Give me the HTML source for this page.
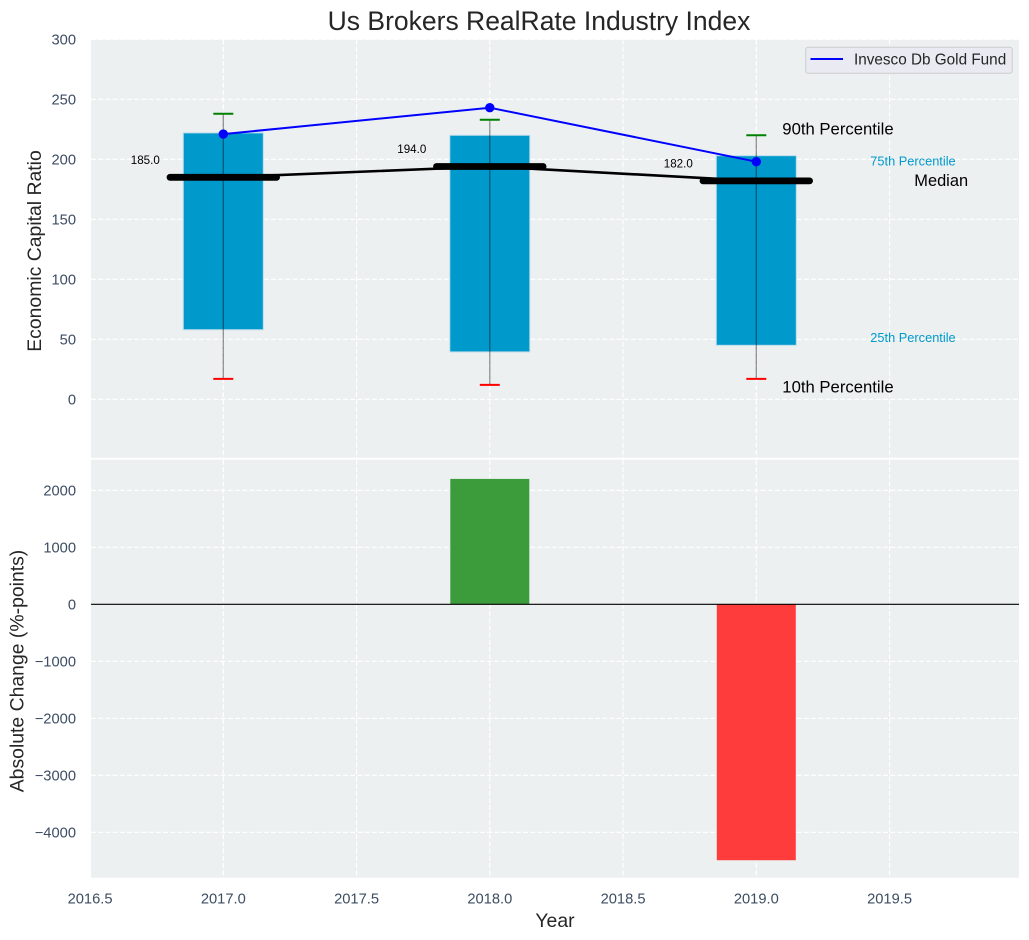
<!DOCTYPE html>
<html lang="en">
<head>
<meta charset="utf-8">
<title>Us Brokers RealRate Industry Index</title>
<style>
html,body{margin:0;padding:0;background:#fff;}
svg{display:block;font-family:"Liberation Sans",Arial,sans-serif;}
</style>
</head>
<body>
<svg id="chart" xmlns="http://www.w3.org/2000/svg" width="1029" height="940" viewBox="0 0 1029 940"></svg>
<script>
const categories = [2017, 2018, 2019];
const p10Values = [17, 12, 17];
const p25Values = [58, 39.5, 45];
const medianValues = [185, 194, 182];
const p75Values = [222, 220, 203];
const p90Values = [238, 233, 220];
const fundValues = [221, 243, 198];
const changeValues = [0, 2200, -4490];
const xTickLabels = [2016.5, 2017, 2017.5, 2018, 2018.5, 2019, 2019.5];
const topTickLabels = [0, 50, 100, 150, 200, 250, 300];
const bottomTickLabels = [-4000, -3000, -2000, -1000, 0, 1000, 2000];

const svg = document.getElementById('chart');
const NS = 'http://www.w3.org/2000/svg';
const L = 91, R = 1019, T1 = 39.5, B1 = 458.7, T2 = 459.7, B2 = 877.7;
const xScale = v => 223.3 + (v - 2017) * 266.5;
const yTop = v => 399.3 - v * 1.2;
const yBottom = v => 604.3 - v * 0.057;

function make(tag, props, text) {
  const el = document.createElementNS(NS, tag);
  for (const k in props) el.setAttribute(k, props[k]);
  if (text !== undefined) el.textContent = text;
  svg.appendChild(el);
  return el;
}
function line(x1, y1, x2, y2, stroke, width, extra) {
  return make('line', Object.assign({x1, y1, x2, y2, stroke, 'stroke-width': width}, extra || {}));
}
function label(x, y, text, size, fill, anchor) {
  return make('text', {x, y, 'font-size': size, fill, 'text-anchor': anchor || 'start', 'dominant-baseline': 'central'}, text);
}
const tickColor = '#3d4d63';
const gridDash = {'stroke-dasharray': '5 2.2'};
let el;

// panels
el = make('rect', {x: L, y: T1, width: R - L, height: B1 - T1, fill: '#ecf0f1'});


el = make('rect', {x: L, y: T2 - 0.2, width: R - L, height: B2 - T2 + 0.2, fill: '#ecf0f1'});



// grids
xTickLabels.forEach(v => {
  if (xScale(v) < L) return;
  el = line(xScale(v), T1, xScale(v), B1, '#fff', 1.2, gridDash);
  
  
  el = line(xScale(v), T2, xScale(v), B2, '#fff', 1.2, gridDash);
  
  
});
topTickLabels.forEach(v => {
  el = line(L, yTop(v), R, yTop(v), '#fff', 1.2, gridDash);
  
  
  el = label(76, yTop(v) + 1, String(v), 14.7, tickColor, 'end');
  
  
});
bottomTickLabels.forEach(v => {
  el = line(L, yBottom(v), R, yBottom(v), '#fff', 1.2, gridDash);
  
  
  el = label(76, yBottom(v) + 1, String(v).replace('-', '\u2212'), 14.7, tickColor, 'end');
  
  
});
xTickLabels.forEach(v => {
  el = label(xScale(v), 899.5, v.toFixed(1), 14.7, tickColor, 'middle');
  
  
});

// separator between panels
el = line(L, 458.8, R, 458.8, '#fff', 2);



// percentile boxes
categories.forEach((c, i) => {
  el = make('rect', {
    x: xScale(c) - 40, y: yTop(p75Values[i]), width: 80,
    height: yTop(p25Values[i]) - yTop(p75Values[i]),
    fill: '#0099cc', stroke: '#b9dcea', 'stroke-width': 1
  });
  
  
});

// median connecting line
el = make('polyline', {
  points: categories.map((c, i) => xScale(c) + ',' + yTop(medianValues[i])).join(' '),
  fill: 'none', stroke: '#000', 'stroke-width': 2.6
});



// fund line
el = make('polyline', {
  points: categories.map((c, i) => xScale(c) + ',' + yTop(fundValues[i])).join(' '),
  fill: 'none', stroke: '#0000ff', 'stroke-width': 2
});



categories.forEach((c, i) => {
  const x = xScale(c);
  el = line(x, yTop(p90Values[i]), x, yTop(p10Values[i]), '#000', 1.3, {opacity: 0.42});
  
  
  el = line(x - 10, yTop(p90Values[i]), x + 10, yTop(p90Values[i]), '#008000', 2);
  
  
  el = line(x - 10, yTop(p10Values[i]), x + 10, yTop(p10Values[i]), '#ff0000', 2);
  
  
  el = line(x - 53.3, yTop(medianValues[i]), x + 53.3, yTop(medianValues[i]), '#000', 6.8, {'stroke-linecap': 'round'});
  
  
  el = make('circle', {cx: x, cy: yTop(fundValues[i]), r: 4.7, fill: '#0000ff'});
  
  
  el = label(x - 78, yTop(medianValues[i]) - 17, medianValues[i].toFixed(1), 11.6, '#000', 'middle');
  
  
});

// percentile annotations next to the last category
const last = categories.length - 1;
const lastX = xScale(categories[last]);
el = label(lastX + 26, yTop(p90Values[last]) - 6.5, '90th Percentile', 16.7, '#000');


el = label(lastX + 114, yTop(p75Values[last]) + 5.5, '75th Percentile', 12.8, '#0099cc');


el = label(lastX + 158, yTop(medianValues[last]), 'Median', 16.4, '#000');


el = label(lastX + 114, yTop(p25Values[last]) - 8, '25th Percentile', 12.8, '#0099cc');


el = label(lastX + 26, yTop(p10Values[last]) + 8, '10th Percentile', 16.7, '#000');



// change bars
categories.forEach((c, i) => {
  const v = changeValues[i];
  if (v === 0) return;
  el = make('rect', {
    x: xScale(c) - 39.5,
    y: Math.min(yBottom(v), yBottom(0)),
    width: 79,
    height: Math.abs(yBottom(v) - yBottom(0)),
    fill: v > 0 ? '#3c9c3c' : '#ff3c3c'
  });
  
  
});
el = line(L, yBottom(0), R, yBottom(0), '#000', 1.2);



// legend
el = make('rect', {x: 805.7, y: 47.3, width: 206.5, height: 26, rx: 2.5, fill: '#eaeaf2', stroke: '#cccccc', 'stroke-width': 1});


el = line(810.5, 59, 843, 59, '#0000ff', 2);


el = label(854, 60, 'Invesco Db Gold Fund', 15.3, '#262626');



// titles
el = label(539, 21, 'Us Brokers RealRate Industry Index', 26.5, '#262626', 'middle');


el = label(555, 921, 'Year', 19.4, '#262626', 'middle');


el = label(0, 0, 'Economic Capital Ratio', 19.4, '#262626', 'middle');
el.setAttribute('transform', 'translate(35 251) rotate(-90)');


el = label(0, 0, 'Absolute Change (%-points)', 19.4, '#262626', 'middle');
el.setAttribute('transform', 'translate(17.5 671) rotate(-90)');


</script>
</body>
</html>
